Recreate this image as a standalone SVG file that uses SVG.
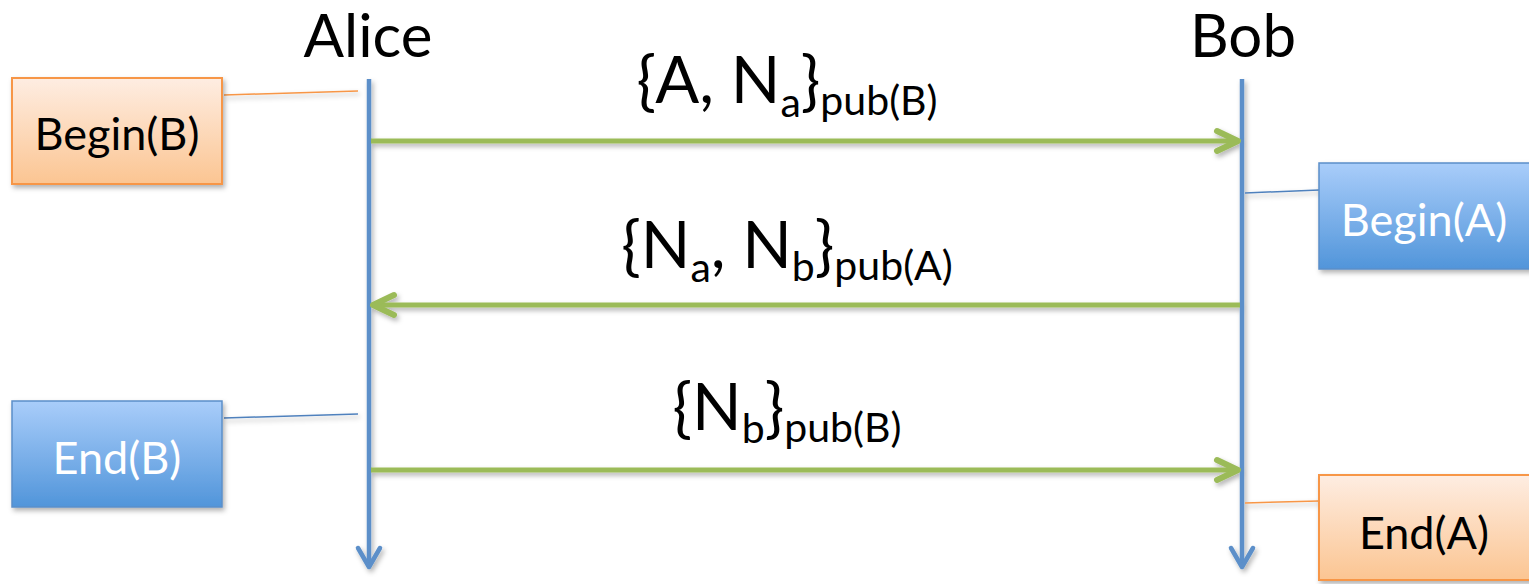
<svg xmlns="http://www.w3.org/2000/svg" width="1529" height="584" viewBox="0 0 1529 584">
<style>
text{font-family:Lato,"Open Sans","Liberation Sans",sans-serif;}
.m{text-anchor:middle;fill:#000;}
.big{font-size:65px;}
.sub{font-size:41px;}
.name{font-size:60px;fill:#000;text-anchor:middle;}
.lbl{font-size:45px;text-anchor:middle;}
.life{stroke:#5B8FC9;stroke-width:4.5;fill:none;}
.msg{stroke:#9BBB59;stroke-width:5;fill:none;}
.lo{stroke:#F79646;stroke-width:1.5;fill:none;}
.lb{stroke:#4F81BD;stroke-width:1.5;fill:none;}
.ob{fill:url(#og);stroke:#F79646;stroke-width:2;}
.bb{fill:url(#bg);stroke:#5B8FC9;stroke-width:1.5;}
</style>
<defs>
<linearGradient id="og" x1="0" y1="0" x2="0" y2="1"><stop offset="0" stop-color="#FEEDE2"/><stop offset="1" stop-color="#FBC592"/></linearGradient>
<linearGradient id="bg" x1="0" y1="0" x2="0" y2="1"><stop offset="0" stop-color="#A9CDFA"/><stop offset="1" stop-color="#5195DA"/></linearGradient>
<filter id="sh" x="-10%" y="-10%" width="130%" height="140%"><feDropShadow dx="2" dy="3" stdDeviation="2.5" flood-color="#000" flood-opacity="0.3"/></filter>
<marker id="ga" markerUnits="userSpaceOnUse" viewBox="-26 -13 30 26" markerWidth="30" markerHeight="26" refX="0" refY="0" orient="auto" overflow="visible"><path d="M-21,-10 L0,0 L-21,10" fill="none" stroke="#9BBB59" stroke-width="6" stroke-linecap="round" stroke-linejoin="round"/></marker>
<marker id="ba" markerUnits="userSpaceOnUse" viewBox="-26 -13 30 26" markerWidth="30" markerHeight="26" refX="0" refY="0" orient="auto" overflow="visible"><path d="M-19,-11 L0,0 L-19,11" fill="none" stroke="#5B8FC9" stroke-width="4.5" stroke-linecap="round" stroke-linejoin="round"/></marker>
</defs>
<g id="alice"><text class="name" x="368" y="57">Alice</text></g>
<g id="bob"><text class="name" x="1243" y="57">Bob</text></g>
<g id="connectors" filter="url(#sh)">
<line class="life" x1="369" y1="79" x2="369" y2="567" marker-end="url(#ba)"/>
<line class="life" x1="1242" y1="79" x2="1242" y2="567" marker-end="url(#ba)"/>
<line class="msg" x1="371" y1="141" x2="1238" y2="141" marker-end="url(#ga)"/>
<line class="msg" x1="1240" y1="305" x2="373" y2="305" marker-end="url(#ga)"/>
<line class="msg" x1="371" y1="470" x2="1238" y2="470" marker-end="url(#ga)"/>
<line class="lo" x1="224" y1="95" x2="358" y2="91"/>
<line class="lb" x1="1245" y1="193" x2="1319" y2="190"/>
<line class="lb" x1="224" y1="418" x2="358" y2="414"/>
<line class="lo" x1="1245" y1="503" x2="1319" y2="501"/>
</g>
<g id="m1"><text class="m" x="787" y="103"><tspan class="big">{A, N</tspan><tspan class="sub" dy="14">a</tspan><tspan class="big" dy="-14">}</tspan><tspan class="sub" dy="12">pub(B)</tspan></text></g>
<g id="m2"><text class="m" x="787" y="268"><tspan class="big">{N</tspan><tspan class="sub" dy="14">a</tspan><tspan class="big" dy="-14">, N</tspan><tspan class="sub" dy="13">b</tspan><tspan class="big" dy="-13">}</tspan><tspan class="sub" dy="12">pub(A)</tspan></text></g>
<g id="m3"><text class="m" x="787" y="430"><tspan class="big">{N</tspan><tspan class="sub" dy="13">b</tspan><tspan class="big" dy="-13">}</tspan><tspan class="sub" dy="12">pub(B)</tspan></text></g>
<g id="beginB"><rect class="ob" x="12" y="78" width="210" height="106" filter="url(#sh)"/><text class="lbl" x="117" y="150" fill="#000">Begin(B)</text></g>
<g id="beginA"><rect class="bb" x="1319" y="163" width="215" height="106" filter="url(#sh)"/><text class="lbl" x="1424" y="236" fill="#fff">Begin(A)</text></g>
<g id="endB"><rect class="bb" x="12" y="401" width="210" height="106" filter="url(#sh)"/><text class="lbl" x="117" y="474" fill="#fff">End(B)</text></g>
<g id="endA"><rect class="ob" x="1319" y="475" width="215" height="105" filter="url(#sh)"/><text class="lbl" x="1424" y="549" fill="#000">End(A)</text></g>
</svg>
